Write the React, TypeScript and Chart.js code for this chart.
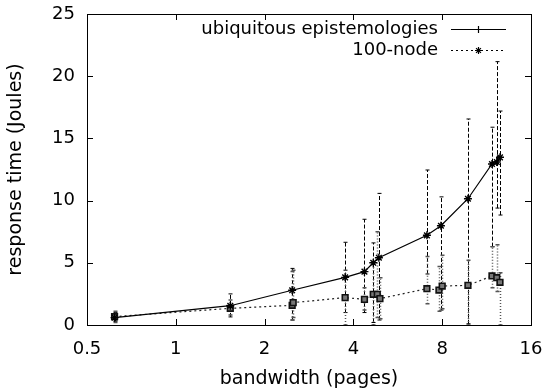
import React, { useEffect, useRef } from "react";
import { Chart, registerables } from "chart.js";

Chart.register(...registerables);

const xTicks = [0.5, 1, 2, 4, 8, 16];
const yTicks = [0, 5, 10, 15, 20, 25];

const seriesNames = ["ubiquitous epistemologies", "100-node"];

const ubiX = [0.62, 1.53, 2.48, 3.75, 4.36, 4.67, 4.88, 7.1, 7.92, 9.78, 11.8, 12.25, 12.56];
const ubiY = [0.59, 1.55, 2.79, 3.83, 4.29, 5.0, 5.41, 7.21, 7.98, 10.15, 12.94, 13.1, 13.48];
const ubiLow = [0.3, 0.65, 0.4, 1.0, 1.0, 0.2, 0.4, 4.1, 1.2, 0.1, 6.3, 9.4, 8.84];
const ubiHigh = [1.0, 2.5, 4.55, 6.65, 8.5, 6.6, 10.58, 12.46, 10.3, 16.56, 15.9, 21.17, 17.2];

const nodeX = [0.62, 1.53, 2.48, 2.5, 3.75, 4.36, 4.67, 4.82, 4.92, 7.1, 7.8, 8.0, 9.78, 11.8, 12.25, 12.56];
const nodeY = [0.67, 1.34, 1.58, 1.8, 2.2, 2.06, 2.47, 2.47, 2.12, 2.92, 2.81, 3.13, 3.19, 3.94, 3.8, 3.43];
const nodeLow = [0.2, 0.8, 0.4, 0.6, 0, 1.2, 0, 0.6, 0.5, 1.7, 1.1, 1.3, 0, 3.0, 2.7, 0];
const nodeHigh = [1.1, 2.0, 4.3, 4.4, 4.4, 3.0, 5.0, 7.5, 3.8, 5.5, 4.7, 5.6, 5.2, 6.3, 6.45, 4.2];

const FONT = "'DejaVu Sans', 'Liberation Sans', sans-serif";
const FONT_SIZE = 18;
const TITLE_SIZE = 19;

export default function App() {
  const ref = useRef<HTMLCanvasElement>(null);

  useEffect(() => {
    if (!ref.current) return;

    const errorBars = [
      { xs: ubiX, lo: ubiLow, hi: ubiHigh, dash: [4, 2], color: "#000", width: 1 },
      { xs: nodeX, lo: nodeLow, hi: nodeHigh, dash: [1, 2], color: "#555", width: 1.5 },
    ];

    const plugin = {
      id: "gnuplotDecor",
      beforeDatasetsDraw(chart: any) {
        const ctx = chart.ctx;
        const sx = chart.scales.x;
        const sy = chart.scales.y;
        ctx.save();
        for (const eb of errorBars) {
          ctx.strokeStyle = eb.color;
          ctx.lineWidth = eb.width;
          ctx.setLineDash(eb.dash);
          for (let i = 0; i < eb.xs.length; i++) {
            const px = Math.round(sx.getPixelForValue(eb.xs[i])) + 0.5;
            const pl = sy.getPixelForValue(eb.lo[i]);
            const ph = sy.getPixelForValue(eb.hi[i]);
            ctx.beginPath();
            ctx.moveTo(px, pl);
            ctx.lineTo(px, ph);
            ctx.stroke();
            ctx.setLineDash([]);
            ctx.beginPath();
            ctx.moveTo(px - 2, ph);
            ctx.lineTo(px + 2, ph);
            ctx.moveTo(px - 2, pl);
            ctx.lineTo(px + 2, pl);
            ctx.stroke();
            ctx.setLineDash(eb.dash);
          }
        }
        ctx.restore();
      },
      afterDraw(chart: any) {
        const ctx = chart.ctx;
        const { left, right, top, bottom } = chart.chartArea;
        const sx = chart.scales.x;
        const sy = chart.scales.y;
        ctx.save();
        ctx.strokeStyle = "#000";
        ctx.lineWidth = 1;
        ctx.setLineDash([]);
        ctx.strokeRect(Math.round(left) + 0.5, Math.round(top) + 0.5, Math.round(right - left), Math.round(bottom - top));
        const tl = 6;
        ctx.beginPath();
        for (const v of xTicks) {
          const px = Math.round(sx.getPixelForValue(v)) + 0.5;
          ctx.moveTo(px, bottom);
          ctx.lineTo(px, bottom - tl);
          ctx.moveTo(px, top);
          ctx.lineTo(px, top + tl);
        }
        for (const v of yTicks) {
          const py = Math.round(sy.getPixelForValue(v)) + 0.5;
          ctx.moveTo(left, py);
          ctx.lineTo(left + tl, py);
          ctx.moveTo(right, py);
          ctx.lineTo(right - tl, py);
        }
        ctx.stroke();

        // legend
        ctx.font = `${FONT_SIZE}px ${FONT}`;
        ctx.fillStyle = "#000";
        ctx.textAlign = "right";
        ctx.textBaseline = "middle";
        const textRight = right - 93;
        const lx0 = right - 80;
        const lx1 = right - 25;
        const lxc = (lx0 + lx1) / 2;
        const rows = [top + 15, top + 36];
        ctx.fillText(seriesNames[0], textRight, rows[0]);
        ctx.fillText(seriesNames[1], textRight, rows[1]);
        ctx.lineWidth = 1.2;
        ctx.beginPath();
        ctx.moveTo(lx0, rows[0] + 0.5);
        ctx.lineTo(lx1, rows[0] + 0.5);
        ctx.stroke();
        ctx.beginPath();
        ctx.moveTo(lxc, rows[0] - 3);
        ctx.lineTo(lxc, rows[0] + 4);
        ctx.stroke();
        ctx.setLineDash([2, 3]);
        ctx.beginPath();
        ctx.moveTo(lx0, rows[1] + 0.5);
        ctx.lineTo(lx1, rows[1] + 0.5);
        ctx.stroke();
        ctx.setLineDash([]);
        const r = 3.5;
        const cy = rows[1] + 0.5;
        ctx.beginPath();
        ctx.moveTo(lxc - r, cy);
        ctx.lineTo(lxc + r, cy);
        ctx.moveTo(lxc, cy - r);
        ctx.lineTo(lxc, cy + r);
        ctx.moveTo(lxc - r * 0.7, cy - r * 0.7);
        ctx.lineTo(lxc + r * 0.7, cy + r * 0.7);
        ctx.moveTo(lxc - r * 0.7, cy + r * 0.7);
        ctx.lineTo(lxc + r * 0.7, cy - r * 0.7);
        ctx.stroke();
        ctx.restore();
      },
    };

    const tickFont = { family: FONT, size: FONT_SIZE };
    const titleFont = { family: FONT, size: TITLE_SIZE };

    const chart = new Chart(ref.current, {
      type: "line",
      data: {
        datasets: [
          {
            label: seriesNames[0],
            data: ubiX.map((x, i) => ({ x, y: ubiY[i] })),
            borderColor: "#000",
            borderWidth: 1.2,
            pointStyle: "star",
            pointRadius: 4,
            pointBorderColor: "#000",
            pointBorderWidth: 1.4,
            pointBackgroundColor: "#000",
            tension: 0,
            fill: false,
          },
          {
            label: seriesNames[1],
            data: nodeX.map((x, i) => ({ x, y: nodeY[i] })),
            borderColor: "#222",
            borderWidth: 1.2,
            borderDash: [2, 3],
            pointStyle: "rect",
            pointRadius: 4,
            pointBorderColor: "#111",
            pointBorderWidth: 1.6,
            pointBackgroundColor: "#777",
            tension: 0,
            fill: false,
          },
        ],
      },
      options: {
        responsive: false,
        devicePixelRatio: 1,
        animation: false,
        layout: { padding: { left: 0, right: 16, top: 14, bottom: 0 } },
        plugins: { legend: { display: false }, tooltip: { enabled: false } },
        scales: {
          x: {
            type: "logarithmic",
            min: 0.5,
            max: 16,
            afterBuildTicks: (s: any) => {
              s.ticks = xTicks.map((v) => ({ value: v }));
            },
            afterFit: (s: any) => {
              s.height = 65;
              s.paddingLeft = 0;
              s.paddingRight = 0;
            },
            ticks: {
              callback: (v: any) => String(v),
              font: tickFont,
              color: "#000",
              padding: 14,
              maxRotation: 0,
              autoSkip: false,
            },
            grid: { display: false, drawTicks: false },
            border: { display: false },
            title: {
              display: true,
              text: "bandwidth (pages)",
              font: titleFont,
              color: "#000",
              padding: { top: 0, bottom: 0 },
            },
          },
          y: {
            type: "linear",
            min: 0,
            max: 25,
            afterBuildTicks: (s: any) => {
              s.ticks = yTicks.map((v) => ({ value: v }));
            },
            afterFit: (s: any) => {
              s.width = 87;
              s.paddingTop = 0;
              s.paddingBottom = 0;
            },
            ticks: {
              callback: (v: any) => String(v),
              font: tickFont,
              color: "#000",
              padding: 12,
            },
            grid: { display: false, drawTicks: false },
            border: { display: false },
            title: {
              display: true,
              text: "response time (Joules)",
              font: titleFont,
              color: "#000",
              padding: { top: 5, bottom: 0 },
            },
          },
        },
      },
      plugins: [plugin],
    } as any);

    return () => chart.destroy();
  }, []);

  return (
    <div style={{ position: "absolute", left: 0, top: 0, width: 547, height: 390 }}>
      <canvas ref={ref} width={547} height={390} style={{ display: "block", width: 547, height: 390 }} />
    </div>
  );
}
